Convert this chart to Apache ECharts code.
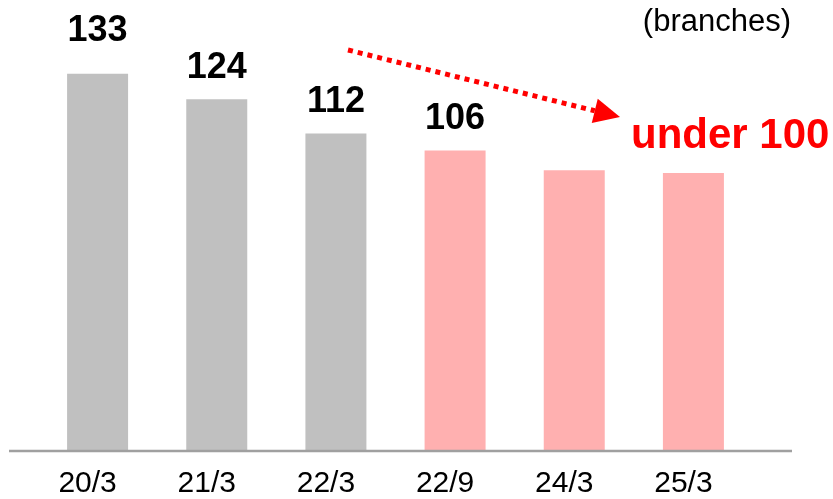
<!DOCTYPE html>
<html>
<head>
<meta charset="utf-8">
<script src="https://cdn.jsdelivr.net/npm/echarts@6/dist/echarts.min.js"></script>
<style>
  html, body { margin: 0; padding: 0; background: #ffffff; }
  #chart { width: 833px; height: 499px; }
</style>
</head>
<body>
<div id="chart"></div>
<script>
// Branch counts by period (end of fiscal half / year)
const periods = ['20/3', '21/3', '22/3', '22/9', '24/3', '25/3'];
const branchCounts = [133, 124, 112, 106, 99, 98];
// Which periods belong to the new plan (pink) rather than past results (grey)
const isPlan = [false, false, false, true, true, true];
// Periods whose value is printed above the bar
const showValue = [true, true, true, true, false, false];

const FONT = '"Liberation Sans", Arial, sans-serif';
const GREY = '#c0c0c0';
const PINK = '#ffb0b0';
const RED = '#ff0000';

const chart = echarts.init(document.getElementById('chart'), null, { renderer: 'canvas' });

const barData = branchCounts.map((v, i) => ({
  value: v,
  itemStyle: { color: isPlan[i] ? PINK : GREY },
  label: {
    show: showValue[i],
    offset: i === 0 ? [0, -12] : [0, 0]
  }
}));

chart.setOption({
  animation: false,
  backgroundColor: '#ffffff',
  grid: { left: 38, right: 80, top: 54, bottom: 47 },
  xAxis: {
    type: 'category',
    data: periods,
    axisLine: { show: false },
    axisTick: { show: false },
    axisLabel: {
      color: '#000000',
      fontFamily: FONT,
      fontSize: 30,
      margin: 18,
      padding: [0, 20, 0, 0]
    }
  },
  yAxis: {
    type: 'value',
    min: 0,
    max: 140,
    show: false,
    splitLine: { show: false }
  },
  series: [{
    type: 'bar',
    data: barData,
    barWidth: 61,
    label: {
      position: 'top',
      distance: 13,
      color: '#000000',
      fontFamily: FONT,
      fontWeight: 'bold',
      fontSize: 36
    }
  }]
});

// Baseline: a long grey rule at the zero level, wider than the bar area
const y0 = chart.convertToPixel({ yAxisIndex: 0 }, 0);

// Dotted trend arrow toward the "under 100" note
const tip = [620, 117];
const start = [348, 50];
const dx = tip[0] - start[0], dy = tip[1] - start[1];
const len = Math.sqrt(dx * dx + dy * dy);
const ux = dx / len, uy = dy / len;
const nx = -uy, ny = ux;
const headLen = 26, headHalf = 12.5;
const base = [tip[0] - headLen * ux, tip[1] - headLen * uy];

chart.setOption({
  graphic: [
    {
      type: 'line',
      z: 10,
      shape: { x1: 9, y1: y0, x2: 792, y2: y0 },
      style: { stroke: '#a0a0a0', lineWidth: 2.5 }
    },
    {
      type: 'line',
      shape: { x1: start[0], y1: start[1], x2: base[0], y2: base[1] },
      style: { stroke: RED, lineWidth: 5, lineDash: [5, 5], lineCap: 'butt' }
    },
    {
      type: 'polygon',
      shape: {
        points: [
          tip,
          [base[0] + headHalf * nx, base[1] + headHalf * ny],
          [base[0] - headHalf * nx, base[1] - headHalf * ny]
        ]
      },
      style: { fill: RED }
    },
    {
      type: 'text',
      x: 631,
      y: 136,
      style: {
        text: 'under 100',
        fill: RED,
        font: 'bold 42px ' + FONT,
        textAlign: 'left',
        textVerticalAlign: 'middle'
      }
    },
    {
      type: 'text',
      x: 791,
      y: 22,
      style: {
        text: '(branches)',
        fill: '#000000',
        font: '31px ' + FONT,
        textAlign: 'right',
        textVerticalAlign: 'middle'
      }
    }
  ]
});
</script>
</body>
</html>
